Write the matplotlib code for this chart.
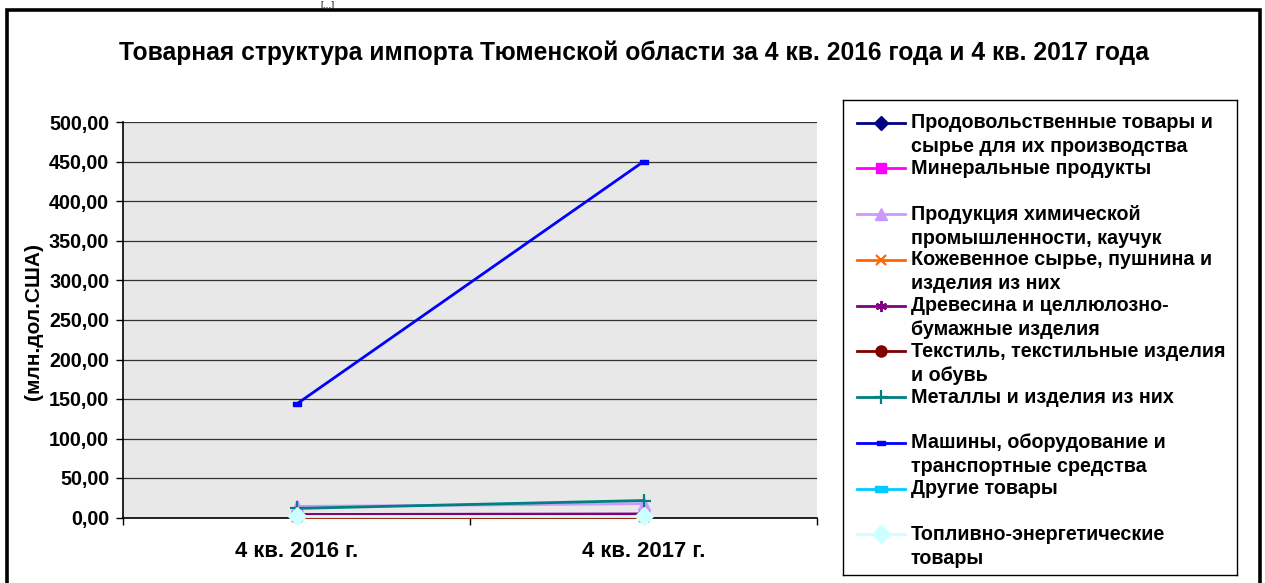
import matplotlib
matplotlib.use("Agg")
import matplotlib.pyplot as plt
from matplotlib.patches import Rectangle
from matplotlib.ticker import FuncFormatter, FixedLocator

plt.rcParams['font.family'] = ['Liberation Sans', 'DejaVu Sans']

categories = ["4 кв. 2016 г.", "4 кв. 2017 г."]

food = [2.5, 3.0]
mineral = [3.5, 4.0]
chemical = [14.0, 17.5]
leather = [0.1, 0.2]
wood = [3.8, 4.5]
textile = [0.5, 0.4]
metals = [11.5, 21.5]
machines = [143.5, 450.5]
other = [1.5, 1.5]
fuel = [2.0, 2.0]

series_labels = [
    "Продовольственные товары и\nсырье для их производства",
    "Минеральные продукты",
    "Продукция химической\nпромышленности, каучук",
    "Кожевенное сырье, пушнина и\nизделия из них",
    "Древесина и целлюлозно-\nбумажные изделия",
    "Текстиль, текстильные изделия\nи обувь",
    "Металлы и изделия из них",
    "Машины, оборудование и\nтранспортные средства",
    "Другие товары",
    "Топливно-энергетические\nтовары",
]
series_values = [food, mineral, chemical, leather, wood, textile, metals, machines, other, fuel]

rect = [(-1, -0.45), (1, -0.45), (1, 0.45), (-1, 0.45), (-1, -0.45)]
styles = [
    dict(color="#000080", marker="D", ms=7, mfc="#000080", mec="#000080"),
    dict(color="#FF00FF", marker="s", ms=7, mfc="#FF00FF", mec="#FF00FF"),
    dict(color="#CC99FF", marker="^", ms=8, mfc="#CC99FF", mec="#CC99FF"),
    dict(color="#FF6600", marker="x", ms=7, mew=1.6),
    dict(color="#800080", marker=(6, 2, 0), ms=8, mew=1.4),
    dict(color="#800000", marker="o", ms=8, mfc="#800000", mec="#800000"),
    dict(color="#008080", marker="+", ms=10, mew=1.6),
    dict(color="#0000FF", marker=rect, ms=6, mfc="#0000FF", mec="#0000FF"),
    dict(color="#00CCFF", marker=rect, ms=9, mfc="#00CCFF", mec="#00CCFF"),
    dict(color="#CCFFFF", marker="D", ms=9, mfc="#CCFFFF", mec="#CCFFFF"),
]

W, H = 1265, 583
fig = plt.figure(figsize=(W / 100, H / 100), dpi=100)

def fx(px):
    return px / W

def fy(py):
    return 1 - py / H

ax_l, ax_r, ax_t, ax_b = 123, 817, 122.5, 517.5
ax = fig.add_axes([fx(ax_l), fy(ax_b), fx(ax_r - ax_l), (ax_b - ax_t) / H])
ax.set_facecolor("#E8E8E8")

x = list(range(len(categories)))
for vals, st in zip(series_values, styles):
    ms_style = {k: v for k, v in st.items() if k != "color"}
    ax.plot(x, vals, color=st["color"], lw=2.0, **ms_style, zorder=3, clip_on=False)

ax.set_xlim(-0.5, 1.5)
ax.set_ylim(0, 500)
ax.set_yticks(range(0, 501, 50))
ax.yaxis.set_major_formatter(FuncFormatter(lambda v, p: f"{v:.2f}".replace(".", ",")))
ax.grid(axis="y", color="#333333", lw=0.9)
ax.set_axisbelow(True)

ax.xaxis.set_major_locator(FixedLocator([-0.5, 0.5, 1.5]))
ax.xaxis.set_minor_locator(FixedLocator(x))
ax.set_xticklabels([])
ax.set_xticklabels(categories, minor=True)
ax.tick_params(axis="x", which="major", length=5, width=1, direction="out")
ax.tick_params(axis="x", which="minor", length=0, pad=17, labelsize=15.8)
ax.tick_params(axis="y", length=5, width=1, direction="out", pad=5, labelsize=14.2)
for lbl in ax.get_xticklabels(minor=True) + ax.get_yticklabels():
    lbl.set_fontweight("bold")

for s in ["top", "right"]:
    ax.spines[s].set_visible(False)
for s in ["left", "bottom"]:
    ax.spines[s].set_color("black")
    ax.spines[s].set_linewidth(1.2)

fig.text(fx(34), fy(321), "(млн.дол.США)", rotation=90, ha="center", va="center",
         fontsize=15, fontweight="bold")

fig.text(fx(634), fy(53), "Товарная структура импорта Тюменской области за 4 кв. 2016 года и 4 кв. 2017 года",
         ha="center", va="center", fontsize=17.7, fontweight="bold")

# legend box
lx0, lx1, ly0, ly1 = 843, 1237, 100, 575
lax = fig.add_axes([fx(lx0), fy(ly1), fx(lx1 - lx0), (ly1 - ly0) / H])
lax.set_xlim(lx0, lx1)
lax.set_ylim(ly1, ly0)
lax.set_xticks([])
lax.set_yticks([])
lax.set_facecolor("white")
for s in lax.spines.values():
    s.set_color("black")
    s.set_linewidth(1.0)

y0, dy, line_h = 122.7, 45.75, 24
for i, (lab, st) in enumerate(zip(series_labels, styles)):
    y = y0 + i * dy
    lax.plot([857, 905], [y, y], color=st["color"], lw=2.0)
    ms_style = {k: v for k, v in st.items() if k != "color"}
    lax.plot([881], [y], color=st["color"], lw=0, **ms_style)
    for j, part in enumerate(lab.split("\n")):
        lax.text(911, y + j * line_h, part, ha="left", va="center", fontsize=14.2, fontweight="bold")

# outer frame
fig.add_artist(Rectangle((fx(7.5), fy(600)), fx(1259.5 - 7.5), (600 - 10) / H, transform=fig.transFigure,
                         fill=False, ec="black", lw=2.6))
fig.text(fx(327), fy(0.5), "[…]", ha="center", va="top", fontsize=6.5)

fig.savefig("out.png", dpi=100)
